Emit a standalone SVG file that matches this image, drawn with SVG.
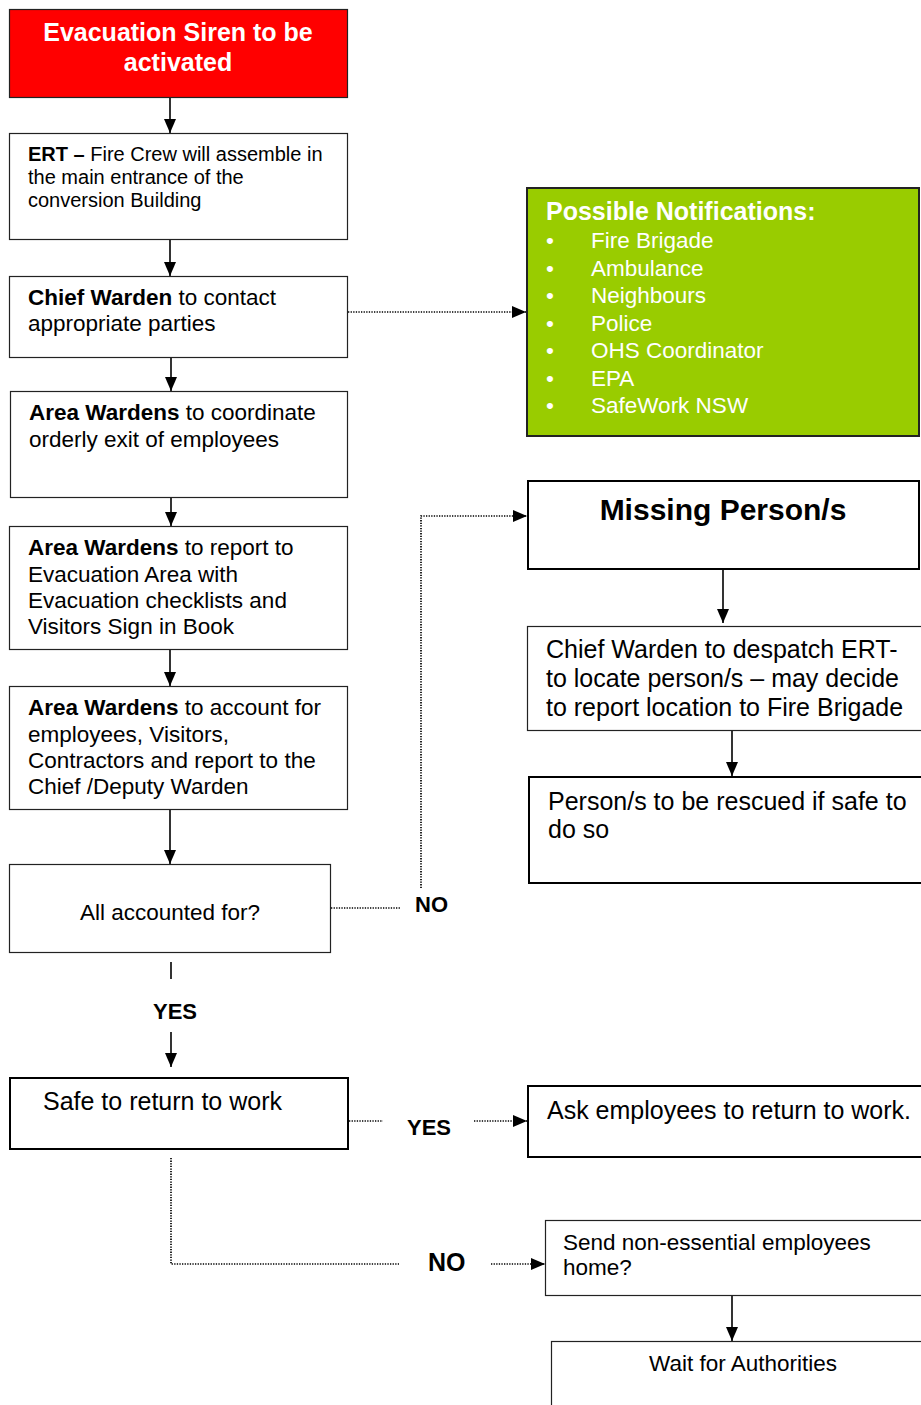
<svg xmlns="http://www.w3.org/2000/svg" width="921" height="1405" viewBox="0 0 921 1405">
<defs>
<marker id="ah" viewBox="0 0 14 12" refX="14" refY="6" markerWidth="14" markerHeight="12" markerUnits="userSpaceOnUse" orient="auto">
<path d="M0,0 L14,6 L0,12 Z" fill="#000"/>
</marker>
<style>
text{font-family:"Liberation Sans",Arial,sans-serif;fill:#000}
.box{fill:#fff;stroke:#222;stroke-width:1.2}
.thick{fill:#fff;stroke:#000;stroke-width:2}
.t20{font-size:20px}
.t22{font-size:22.5px}
.t24{font-size:25px}
.lb{font-size:22px}
.b{font-weight:bold}
.w{fill:#fff}
.sol{stroke:#000;stroke-width:1.6;fill:none}
.dot{stroke:#000;stroke-width:1.7;fill:none;stroke-dasharray:1.3,1.3}
</style>
</defs>
<rect width="921" height="1405" fill="#fff"/>

<g id="connectors">
<line class="sol" x1="170" y1="98" x2="170" y2="133" marker-end="url(#ah)"/>
<line class="sol" x1="170" y1="240" x2="170" y2="276" marker-end="url(#ah)"/>
<line class="sol" x1="171" y1="358" x2="171" y2="391" marker-end="url(#ah)"/>
<line class="sol" x1="171" y1="498" x2="171" y2="526" marker-end="url(#ah)"/>
<line class="sol" x1="170" y1="650" x2="170" y2="686" marker-end="url(#ah)"/>
<line class="sol" x1="170" y1="810" x2="170" y2="864" marker-end="url(#ah)"/>
<line class="dot" x1="348" y1="312" x2="526" y2="312" marker-end="url(#ah)"/>
<line class="dot" x1="331" y1="908" x2="401" y2="908"/>
<polyline class="dot" points="421,888 421,516 527,516" marker-end="url(#ah)"/>
<line class="sol" x1="171" y1="962" x2="171" y2="979"/>
<line class="sol" x1="171" y1="1032" x2="171" y2="1067" marker-end="url(#ah)"/>
<line class="dot" x1="349" y1="1121" x2="383" y2="1121"/>
<line class="dot" x1="474" y1="1121" x2="527" y2="1121" marker-end="url(#ah)"/>
<polyline class="dot" points="171,1158 171,1264 399,1264"/>
<line class="dot" x1="491" y1="1264" x2="545" y2="1264" marker-end="url(#ah)"/>
<line class="sol" x1="723" y1="569" x2="723" y2="623" marker-end="url(#ah)"/>
<line class="sol" x1="732" y1="731" x2="732" y2="776" marker-end="url(#ah)"/>
<line class="sol" x1="732" y1="1296" x2="732" y2="1341" marker-end="url(#ah)"/>
<text class="lb b" x="415" y="912">NO</text>
<text class="lb b" x="153" y="1019">YES</text>
<text class="lb b" x="407" y="1135">YES</text>
<text class="t24 b" x="428" y="1271">NO</text>
</g>

<g id="siren">
<rect x="9.5" y="9.5" width="338" height="88" fill="#ff0000" stroke="#222" stroke-width="1.2"/>
<text class="t24 b w" x="178" y="41" text-anchor="middle">Evacuation Siren to be</text>
<text class="t24 b w" x="178" y="71" text-anchor="middle">activated</text>
</g>

<g id="ert">
<rect class="box" x="9.5" y="133.5" width="338" height="106"/>
<text class="t20" x="28" y="161"><tspan class="b">ERT –</tspan> Fire Crew will assemble in</text>
<text class="t20" x="28" y="184">the main entrance of the</text>
<text class="t20" x="28" y="207">conversion Building</text>
</g>

<g id="chief">
<rect class="box" x="9.5" y="276.5" width="338" height="81"/>
<text class="t22" x="28" y="305"><tspan class="b">Chief Warden</tspan> to contact</text>
<text class="t22" x="28" y="331">appropriate parties</text>
</g>

<g id="area1">
<rect class="box" x="10.5" y="391.5" width="337" height="106"/>
<text class="t22" x="29" y="420"><tspan class="b">Area Wardens</tspan> to coordinate</text>
<text class="t22" x="29" y="447">orderly exit of employees</text>
</g>

<g id="area2">
<rect class="box" x="9.5" y="526.5" width="338" height="123"/>
<text class="t22" x="28" y="555"><tspan class="b">Area Wardens</tspan> to report to</text>
<text class="t22" x="28" y="582">Evacuation Area with</text>
<text class="t22" x="28" y="608">Evacuation checklists and</text>
<text class="t22" x="28" y="634">Visitors Sign in Book</text>
</g>

<g id="area3">
<rect class="box" x="9.5" y="686.5" width="338" height="123"/>
<text class="t22" x="28" y="715"><tspan class="b">Area Wardens</tspan> to account for</text>
<text class="t22" x="28" y="742">employees, Visitors,</text>
<text class="t22" x="28" y="768">Contractors and report to the</text>
<text class="t22" x="28" y="794">Chief /Deputy Warden</text>
</g>

<g id="accounted">
<rect class="box" x="9.5" y="864.5" width="321" height="88"/>
<text class="t22" x="170" y="920" text-anchor="middle">All accounted for?</text>
</g>

<g id="safe">
<rect class="thick" x="10" y="1078" width="338" height="71"/>
<text class="t24" x="43" y="1110">Safe to return to work</text>
</g>

<g id="notifications">
<rect x="527" y="188" width="392" height="248" fill="#99cc00" stroke="#222" stroke-width="2"/>
<text class="t24 b w" x="546" y="220">Possible Notifications:</text>
<g class="t22 w">
<text class="w" x="546" y="248">•</text><text class="w" x="591" y="248">Fire Brigade</text>
<text class="w" x="546" y="276">•</text><text class="w" x="591" y="276">Ambulance</text>
<text class="w" x="546" y="303">•</text><text class="w" x="591" y="303">Neighbours</text>
<text class="w" x="546" y="331">•</text><text class="w" x="591" y="331">Police</text>
<text class="w" x="546" y="358">•</text><text class="w" x="591" y="358">OHS Coordinator</text>
<text class="w" x="546" y="386">•</text><text class="w" x="591" y="386">EPA</text>
<text class="w" x="546" y="413">•</text><text class="w" x="591" y="413">SafeWork NSW</text>
</g>
</g>

<g id="missing">
<rect class="thick" x="528" y="481" width="391" height="88"/>
<text class="b" style="font-size:30px" x="723" y="520" text-anchor="middle">Missing Person/s</text>
</g>

<g id="despatch">
<rect class="box" x="527.5" y="626.5" width="400" height="104"/>
<text class="t24" x="546" y="658">Chief Warden to despatch ERT-</text>
<text class="t24" x="546" y="687">to locate person/s – may decide</text>
<text class="t24" x="546" y="716">to report location to Fire Brigade</text>
</g>

<g id="rescue">
<rect class="thick" x="529" y="777" width="400" height="106"/>
<text class="t24" x="548" y="810">Person/s to be rescued if safe to</text>
<text class="t24" x="548" y="838">do so</text>
</g>

<g id="ask">
<rect class="thick" x="528" y="1086" width="400" height="71"/>
<text class="t24" x="547" y="1119">Ask employees to return to work.</text>
</g>

<g id="send">
<rect class="box" x="545.5" y="1220.5" width="385" height="75"/>
<text class="t22" x="563" y="1250">Send non-essential employees</text>
<text class="t22" x="563" y="1275">home?</text>
</g>

<g id="wait">
<rect class="box" x="551.5" y="1341.5" width="380" height="80"/>
<text class="t22" x="743" y="1371" text-anchor="middle">Wait for Authorities</text>
</g>
</svg>
